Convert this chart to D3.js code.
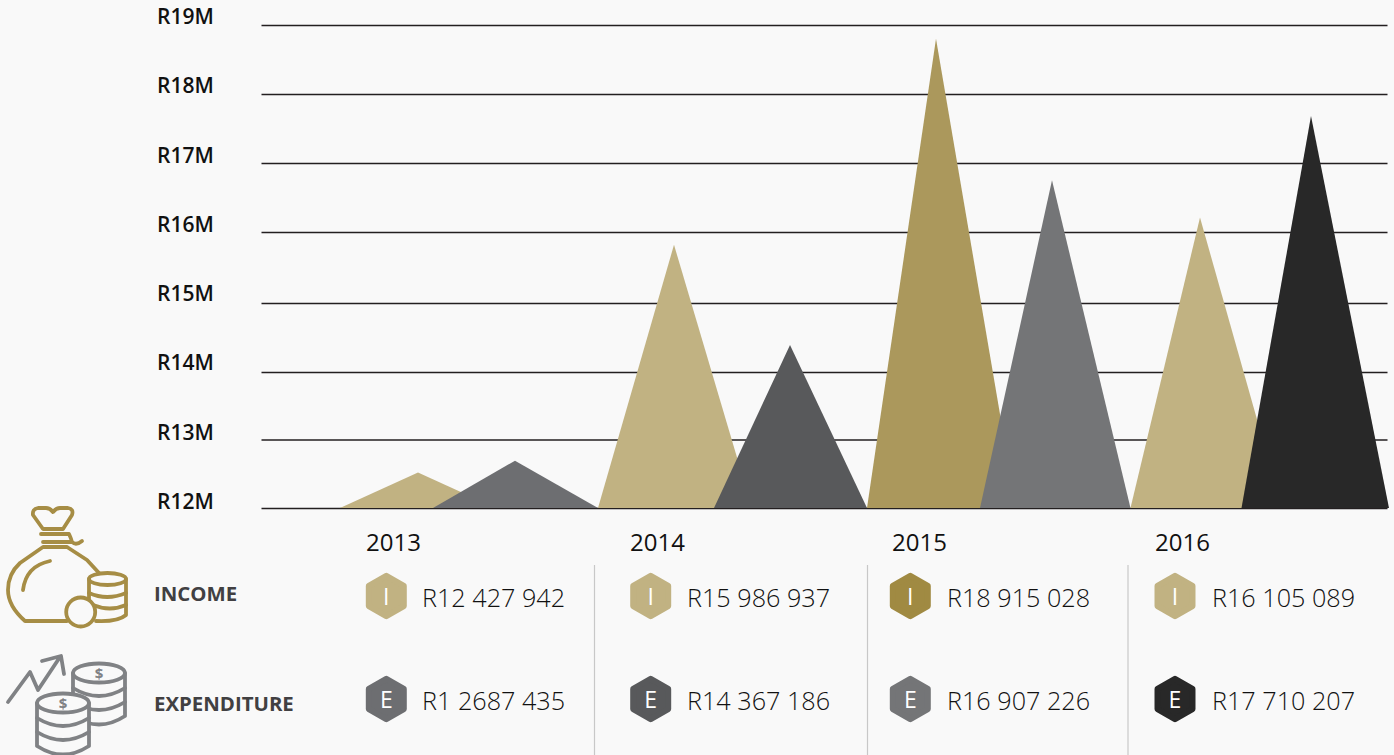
<!DOCTYPE html>
<html lang="en">

<head>
	<meta charset="UTF-8">
	<title>Income and expenditure</title>

	<style>
		html, body { margin: 0; padding: 0; background: #f9f9f9; overflow: hidden; }
		svg { display: block; }
		text { font-family: "Open Sans", sans-serif; }
		.domain { display: none; }
	</style>

	<script src="https://d3js.org/d3.v7.min.js"></script>
</head>

<body>
	<script type="text/javascript">
		const years = ["2013", "2014", "2015", "2016"];
		const incomePeaks = [12.52, 15.82, 18.8, 16.21]; //in millions
		const expenditurePeaks = [12.69, 14.39, 16.75, 17.68];
		const incomeLabels = ["R12 427 942", "R15 986 937", "R18 915 028", "R16 105 089"];
		const expenditureLabels = ["R1 2687 435", "R14 367 186", "R16 907 226", "R17 710 207"];
		const tickValues = [12, 13, 14, 15, 16, 17, 18, 19];
		const tickLabels = ["R12M", "R13M", "R14M", "R15M", "R16M", "R17M", "R18M", "R19M"];

		const incomeColors = ["#c1b282", "#c1b282", "#ab985c", "#c1b282"];
		const expenditureColors = ["#6d6e71", "#58595b", "#747577", "#282828"];
		const hexIncomeColors = ["#c1b282", "#c1b282", "#a08a42", "#c1b282"];
		const hexExpenditureColors = ["#6d6e71", "#58595b", "#747577", "#282828"];

		const width = 1394;
		const height = 755;

		const svg = d3.select("body").append("svg")
			.attr("width", width)
			.attr("height", height);

		// the gridlines in the picture are not quite even, so the scale is piecewise
		const y = d3.scaleLinear()
			.domain(tickValues)
			.range([508, 439.5, 372, 303, 232, 163, 94, 25]);
		const labelY = d3.scaleLinear().domain([12, 19]).range([501.5, 17]);

		// one key per triangle, the peaks are not evenly spaced in the picture
		const keys = years.flatMap(d => [d + "I", d + "E"]);
		const peakX = d3.scaleOrdinal().domain(keys).range([418, 515, 674, 790, 936, 1052, 1200, 1311]);
		const baseLeft = d3.scaleOrdinal().domain(keys).range([78, 82, 76, 76, 69, 72, 69.5, 69.5]);
		const baseRight = d3.scaleOrdinal().domain(keys).range([78, 83, 78, 77, 80, 78.5, 82, 78]);

		const columnX = d3.scaleOrdinal().domain(years).range([366, 630, 892, 1155]);
		const hexX = d3.scaleOrdinal().domain(years).range([386.3, 650.7, 910.3, 1175]);
		const valueX = d3.scaleOrdinal().domain(years).range([422, 687, 947, 1212]);
		const dividerX = d3.scaleOrdinal().domain(years.slice(1)).range([594.5, 867.5, 1128]);
		const rowY = d3.scaleOrdinal().domain(["I", "E"]).range([596, 699]);

		const yAxis = d3.axisLeft(y)
			.tickValues(tickValues)
			.tickFormat((d, i) => tickLabels[i])
			.tickSize(-1126)
			.tickPadding(0);

		const axis = svg.append("g")
			.attr("transform", "translate(261.5,0)")
			.call(yAxis);

		axis.selectAll(".tick line")
			.attr("stroke", "#231f20")
			.attr("stroke-width", 1.3);

		axis.selectAll(".tick text")
			.attr("x", -104.5)
			.attr("y", d => labelY(d) - y(d))
			.attr("dy", "0.32em")
			.style("text-anchor", "start")
			.style("font-size", "21px")
			.style("font-weight", 600)
			.style("fill", "#111");

		const triangles = years.flatMap((d, i) => [
			{ key: d + "I", value: incomePeaks[i], color: incomeColors[i] },
			{ key: d + "E", value: expenditurePeaks[i], color: expenditureColors[i] }
		]);

		const triangle = d3.line();

		svg.selectAll(".peak")
			.data(triangles)
			.join("path")
			.attr("class", "peak")
			.attr("fill", d => d.color)
			.attr("d", d => triangle([
				[peakX(d.key) - baseLeft(d.key), y(12)],
				[peakX(d.key), y(d.value)],
				[peakX(d.key) + baseRight(d.key), y(12)]
			]) + "Z");

		// year labels
		svg.selectAll(".year")
			.data(years)
			.join("text")
			.attr("class", "year")
			.attr("x", d => columnX(d))
			.attr("y", 551)
			.style("font-size", "24px")
			.style("fill", "#111")
			.text(d => d);

		// dividers between the columns
		svg.selectAll(".divider")
			.data(years.slice(1))
			.join("line")
			.attr("class", "divider")
			.attr("x1", d => dividerX(d))
			.attr("x2", d => dividerX(d))
			.attr("y1", 565)
			.attr("y2", 755)
			.attr("stroke", "#c8c8c8")
			.attr("stroke-width", 1.2);

		const hexPath = d3.lineRadial()
			.angle(d => d)
			.radius(20.2)
			.curve(d3.curveLinearClosed)(d3.range(6).map(i => i * Math.PI / 3));

		const rows = [
			{ row: "I", labels: incomeLabels, colors: hexIncomeColors },
			{ row: "E", labels: expenditureLabels, colors: hexExpenditureColors }
		];

		rows.forEach(r => {
			const cells = svg.selectAll(".cell" + r.row)
				.data(years)
				.join("g")
				.attr("class", "cell" + r.row);

			cells.append("path")
				.attr("transform", d => "translate(" + hexX(d) + "," + rowY(r.row) + ")")
				.attr("d", hexPath)
				.attr("fill", (d, i) => r.colors[i])
				.attr("stroke", (d, i) => r.colors[i])
				.attr("stroke-width", 6)
				.attr("stroke-linejoin", "round");

			cells.append("text")
				.attr("x", d => hexX(d))
				.attr("y", rowY(r.row) + 8.5)
				.attr("text-anchor", "middle")
				.style("font-size", "23px")
				.style("font-weight", 400)
				.style("fill", "#fff")
				.text(r.row);

			cells.append("text")
				.attr("x", d => valueX(d))
				.attr("y", rowY(r.row) + 11)
				.style("font-size", "25.2px")
				.style("font-weight", 300)
				.style("fill", "#111")
				.text((d, i) => r.labels[i]);
		});

		svg.append("text")
			.attr("x", 154)
			.attr("y", 601)
			.style("font-size", "20.4px")
			.style("font-weight", 700)
			.style("fill", "#414042")
			.text("INCOME");

		svg.append("text")
			.attr("x", 154)
			.attr("y", 711)
			.style("font-size", "20.4px")
			.style("font-weight", 700)
			.style("fill", "#414042")
			.text("EXPENDITURE");

		// money bag icon
		const gold = "#a68d45";
		const bag = svg.append("g")
			.attr("fill", "none")
			.attr("stroke", gold)
			.attr("stroke-width", 3.8)
			.attr("stroke-linecap", "round")
			.attr("stroke-linejoin", "round");

		bag.append("path").attr("d", "M43,529 L33,515 Q32,509 38,508 H46 Q50,508 53,512 Q56,508 60,508 H68 Q74,509 72,515 L63,529 Z");
		bag.append("path").attr("d", "M41,534 H69 Q71,538 72,542 H43 M72,542 Q76,546 82,541");
		bag.append("path").attr("d", "M67,547 H43 L20,563 Q8,574 8,590 Q8,606 25,621 H67 M67,547 L87,560 L99,573");
		bag.append("path").attr("d", "M50,561 Q26,566 23,590");
		bag.append("path").attr("d", "M89,579 V607 M126,579 V615 Q118,622 96,621");
		bag.append("ellipse").attr("cx", 107.5).attr("cy", 579).attr("rx", 18.5).attr("ry", 6);
		bag.append("path").attr("d", "M89,593 Q107,601 126,593 M93,605 Q110,612 126,605");
		bag.append("circle").attr("cx", 80.7).attr("cy", 612).attr("r", 14.5).attr("fill", "#f9f9f9");

		// coin stacks and arrow icon
		const grey = "#808285";
		const coins = svg.append("g")
			.attr("fill", "none")
			.attr("stroke", grey)
			.attr("stroke-width", 3.8)
			.attr("stroke-linecap", "round")
			.attr("stroke-linejoin", "round");

		coins.append("path").attr("d", "M8,702 L30,672 L38,690 L60,657 M42,661 L61,656 L64,674");

		[{ cx: 99, cy: 673, h: 43 }, { cx: 63, cy: 703, h: 43 }].forEach(s => {
			const g = coins.append("g").attr("transform", "translate(" + s.cx + "," + s.cy + ")");
			g.append("path")
				.attr("fill", "#f9f9f9")
				.attr("d", "M-26,0 V" + s.h + " Q0," + (s.h + 9 + 8) + " 26," + s.h + " V0 Z");
			g.append("ellipse").attr("rx", 26).attr("ry", 9.5).attr("fill", "#f9f9f9");
			g.append("path").attr("d", "M-26,15 Q0,31 26,15 M-26,29 Q0,45 26,29");
			g.append("text")
				.attr("y", 6)
				.attr("text-anchor", "middle")
				.attr("stroke", "none")
				.attr("fill", grey)
				.style("font-size", "15px")
				.style("font-weight", 700)
				.text("$");
		});
	</script>
</body>

</html>
